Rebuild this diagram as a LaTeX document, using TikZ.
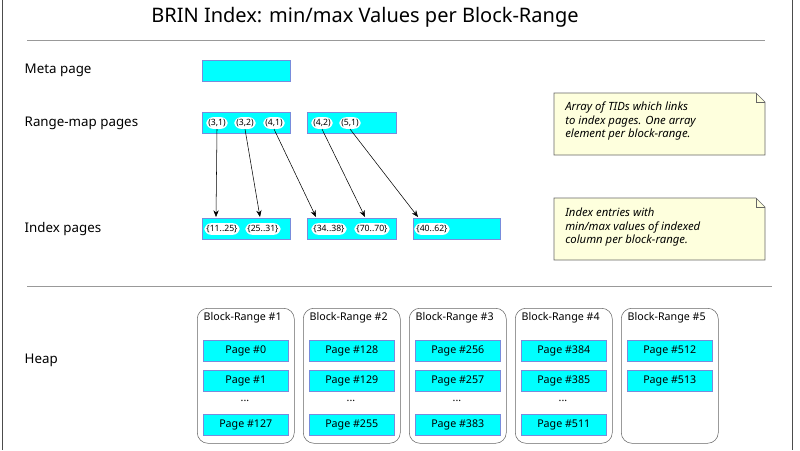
\documentclass[tikz,border=0pt]{standalone}
\usepackage{fontspec}
\setmainfont{Noto Sans}
\usetikzlibrary{arrows.meta}
\definecolor{pagecyan}{RGB}{0,255,255}
\definecolor{pageedge}{RGB}{120,140,220}
\definecolor{notefill}{RGB}{254,255,221}
\tikzset{
  pg/.style={draw=pageedge,fill=pagecyan,minimum height=15.75pt,inner sep=0pt,anchor=north west},
  tid/.style={fill=white,rounded corners=5pt,inner sep=1.5pt,font=\fontsize{6.5}{7}\selectfont},
  lbl/.style={anchor=west,font=\fontsize{10}{12}\selectfont},
  ptr/.style={-{Stealth[length=5pt,width=4pt]},thin},
  rng/.style={draw=black!60,rounded corners=8pt,anchor=north west,minimum width=72.75pt,minimum height=101.25pt},
  note/.style={draw=black!60,fill=notefill,font=\fontsize{8.5}{10}\selectfont\itshape,align=left}
}
\begin{document}
\begin{tikzpicture}[x=0.75pt,y=-0.75pt]
  \useasboundingbox (0,0) rectangle (800,450);
  % frame and separators
  \draw[black!70] (2,0) -- (2,450);
  \draw[black!70] (792,0) -- (792,450);
  \node[font=\fontsize{15}{18}\selectfont] (title) at (365,17) {BRIN Index: min/max Values per Block-Range};
  \draw[black!40] (27,40) -- (765,40);
  \draw[black!40] (27,286) -- (772,286);

  % row labels
  \node[lbl] (lmeta) at (20,70) {Meta page};
  \node[lbl] (lmap) at (20,123) {Range-map pages};
  \node[lbl] (lidx) at (20,229) {Index pages};
  \node[lbl] (lheap) at (20,360) {Heap};

  % meta, range-map and index pages
  \node[pg,minimum width=66pt] (meta) at (202,60) {};
  \node[pg,minimum width=66pt] (map1) at (202,112) {};
  \node[pg,minimum width=66.75pt] (map2) at (307,112) {};
  \node[pg,minimum width=66pt] (idx1) at (202,218) {};
  \node[pg,minimum width=66.75pt] (idx2) at (307,218) {};
  \node[pg,minimum width=65.25pt] (idx3) at (413,218) {};

  \node[tid] (t31) at (217,123) {(3,1)};
  \node[tid] (t32) at (245,123) {(3,2)};
  \node[tid] (t41) at (274,123) {(4,1)};
  \node[tid] (t42) at (322,123) {(4,2)};
  \node[tid] (t51) at (350,123) {(5,1)};

  \node[tid] (e1) at (222,229) {\{11..25\}};
  \node[tid] (e2) at (263,229) {\{25..31\}};
  \node[tid] (e3) at (329,229) {\{34..38\}};
  \node[tid] (e4) at (372,229) {\{70..70\}};
  \node[tid] (e5) at (432,229) {\{40..62\}};

  \coordinate (a1) at (216,217);
  \coordinate (a2) at (260,217);
  \coordinate (a3) at (316,217);
  \coordinate (a4) at (365,217);
  \coordinate (a5) at (418,217);
  \draw[ptr] (t31.south) -- (a1);
  \draw[ptr] (t32.south) -- (a2);
  \draw[ptr] (t41.south) -- (a3);
  \draw[ptr] (t42.south) -- (a4);
  \draw[ptr] (t51.south) -- (a5);

  % notes
  \draw[note] (554,93) -- (756,93) -- (765,102) -- (765,155) -- (554,155) -- cycle;
  \draw[black!60] (756,93) -- (756,102) -- (765,102);
  \node[note,draw=none,fill=none,anchor=north west,inner sep=0pt] (n1) at (565,102)
    {Array of TIDs which links\\to index pages. One array\\element per block-range.};
  \draw[note] (554,198) -- (756,198) -- (765,207) -- (765,260) -- (554,260) -- cycle;
  \draw[black!60] (756,198) -- (756,207) -- (765,207);
  \node[note,draw=none,fill=none,anchor=north west,inner sep=0pt] (n2) at (565,208)
    {Index entries with\\min/max values of indexed\\column per block-range.};

  % heap block ranges
  \foreach \i/\a/\b/\c/\d in {1/0/1/127/197,2/128/129/255/303,3/256/257/383/409,4/384/385/511/515}{
    \node[rng] (br\i) at (\d,308) {};
    \node[anchor=west,font=\fontsize{8}{9}\selectfont] (brt\i) at (\d+2,318) {Block-Range \#\i};
    \node[pg,minimum width=63.75pt,font=\fontsize{8}{9}\selectfont] (p\i a) at (\d+6,340) {Page \#\a};
    \node[pg,minimum width=63.75pt,font=\fontsize{8}{9}\selectfont] (p\i b) at (\d+6,370) {Page \#\b};
    \node[font=\fontsize{8}{9}\selectfont] (dots\i) at (\d+48,401) {...};
    \node[pg,minimum width=63.75pt,font=\fontsize{8}{9}\selectfont] (p\i c) at (\d+6,414) {Page \#\c};
  }
  \node[rng] (br5) at (621,308) {};
  \node[anchor=west,font=\fontsize{8}{9}\selectfont] (brt5) at (623,318) {Block-Range \#5};
  \node[pg,minimum width=63.75pt,font=\fontsize{8}{9}\selectfont] (p5a) at (627,340) {Page \#512};
  \node[pg,minimum width=63.75pt,font=\fontsize{8}{9}\selectfont] (p5b) at (627,370) {Page \#513};
\end{tikzpicture}
\end{document}
